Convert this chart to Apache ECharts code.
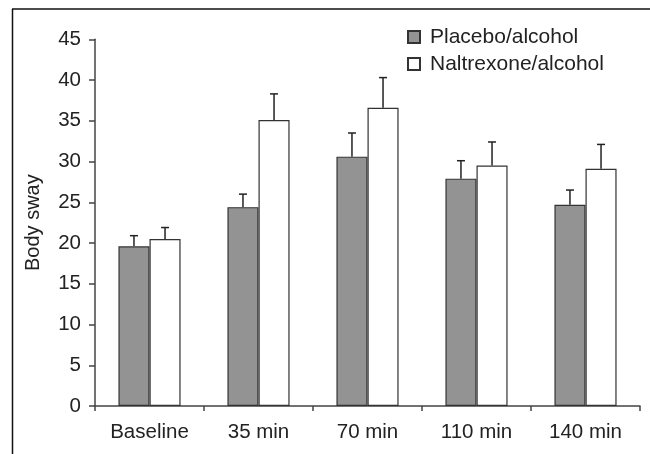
<!DOCTYPE html>
<html>
<head>
<meta charset="utf-8">
<script src="https://cdn.jsdelivr.net/npm/echarts@6/dist/echarts.min.js"></script>
<style>
html,body{margin:0;padding:0;background:#fff;}
#chart{width:650px;height:454px;}
</style>
</head>
<body>
<div id="chart"></div>
<script>
const categories = ['Baseline', '35 min', '70 min', '110 min', '140 min'];
const placebo = [19.6, 24.4, 30.6, 27.9, 24.7];
const placeboErr = [1.3, 1.6, 2.9, 2.2, 1.8];
const naltrexone = [20.5, 35.1, 36.6, 29.5, 29.1];
const naltrexoneErr = [1.4, 3.2, 3.7, 2.9, 3.0];
const seriesNames = ['Placebo/alcohol', 'Naltrexone/alcohol'];

const FONT = 'Liberation Sans, Arial, sans-serif';
const GAP = 0.43;

function errRenderer(sign) {
  return function (params, api) {
    const i = api.value(0);
    const v = api.value(1);
    const e = api.value(2);
    const base = api.coord([i, v]);
    const top = api.coord([i, v + e]);
    const band = api.size([1, 0])[0];
    const bw = band * (1 - GAP) / 2;
    const x = base[0] + sign * bw / 2;
    const st = { stroke: '#222', lineWidth: 1.5 };
    return {
      type: 'group',
      children: [
        { type: 'line', shape: { x1: x, y1: base[1], x2: x, y2: top[1] }, style: st },
        { type: 'line', shape: { x1: x - 4, y1: top[1], x2: x + 4, y2: top[1] }, style: st }
      ]
    };
  };
}

const chart = echarts.init(document.getElementById('chart'));
chart.setOption({
  animation: false,
  backgroundColor: '#fff',
  textStyle: { fontFamily: FONT },
  graphic: [
    { type: 'line', shape: { x1: 12.5, y1: 9, x2: 12.5, y2: 460 }, style: { stroke: '#111', lineWidth: 1.5 } },
    { type: 'line', shape: { x1: 12, y1: 9, x2: 660, y2: 9 }, style: { stroke: '#111', lineWidth: 1.5 } }
  ],
  grid: { left: 95, right: 10, top: 39.3, bottom: 48, containLabel: false },
  legend: {
    data: seriesNames.map(n => ({ name: n, icon: 'rect' })),
    orient: 'vertical',
    left: 402,
    top: 21,
    itemWidth: 12,
    itemHeight: 12,
    itemGap: 5,
    textStyle: { fontSize: 21, color: '#222', fontFamily: FONT, padding: [0, 0, 0, 5], lineHeight: 22 }
  },
  xAxis: {
    type: 'category',
    data: categories,
    axisLine: { lineStyle: { color: '#444', width: 1.5 } },
    axisTick: { show: true, length: 5, alignWithLabel: false, lineStyle: { color: '#444', width: 1.5 } },
    axisLabel: { fontSize: 20.5, color: '#222', margin: 16, fontFamily: FONT, interval: 0 },
    splitLine: { show: false }
  },
  yAxis: {
    type: 'value',
    min: 0,
    max: 45,
    interval: 5,
    name: 'Body sway',
    nameLocation: 'middle',
    nameGap: 52,
    nameTextStyle: { fontSize: 20, color: '#222', fontFamily: FONT },
    axisLine: { show: true, lineStyle: { color: '#444', width: 1.5 } },
    axisTick: { show: true, length: 6, lineStyle: { color: '#444', width: 1.5 } },
    axisLabel: { fontSize: 20.5, color: '#222', margin: 14, fontFamily: FONT },
    splitLine: { show: false }
  },
  series: [
    {
      name: seriesNames[0],
      type: 'bar',
      data: placebo,
      barGap: '0%',
      barCategoryGap: (GAP * 100) + '%',
      itemStyle: { color: '#939393', borderColor: '#333', borderWidth: 1.2 }
    },
    {
      name: seriesNames[1],
      type: 'bar',
      data: naltrexone,
      barGap: '0%',
      barCategoryGap: (GAP * 100) + '%',
      itemStyle: { color: '#ffffff', borderColor: '#333', borderWidth: 1.2 }
    },
    {
      type: 'custom',
      name: 'errPlacebo',
      renderItem: errRenderer(-1),
      data: categories.map((c, i) => [i, placebo[i], placeboErr[i]]),
      encode: { x: 0, y: 1 },
      z: 1,
      silent: true
    },
    {
      type: 'custom',
      name: 'errNaltrexone',
      renderItem: errRenderer(1),
      data: categories.map((c, i) => [i, naltrexone[i], naltrexoneErr[i]]),
      encode: { x: 0, y: 1 },
      z: 1,
      silent: true
    }
  ]
});
</script>
</body>
</html>
